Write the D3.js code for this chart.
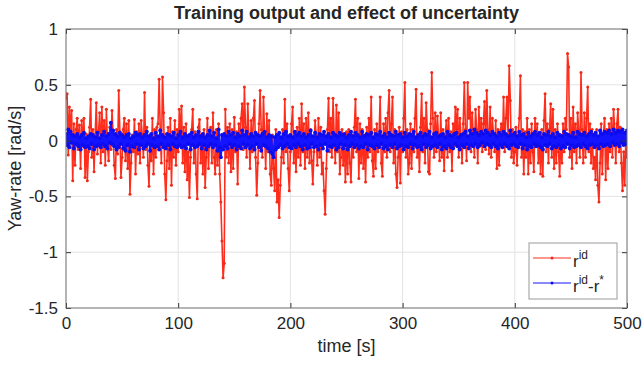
<!DOCTYPE html>
<html>
<head>
<meta charset="utf-8">
<script src="https://cdn.jsdelivr.net/npm/d3@7"></script>
<style>
  body { margin: 0; background: #fff; }
  text { font-family: "Liberation Sans", Arial, Helvetica, sans-serif; fill: #262626; }
</style>
</head>
<body>
<svg id="chart" width="643" height="365"></svg>
<script>
const title = "Training output and effect of uncertainty";
const xLabel = "time [s]";
const yLabel = "Yaw-rate [rad/s]";
const xTicks = [0, 100, 200, 300, 400, 500];
const yTicks = [-1.5, -1, -0.5, 0, 0.5, 1];
const yTickLabels = ["-1.5", "-1", "-0.5", "0", "0.5", "1"];

// one sample per second, starting at t = 0
const sampleStep = 1;

// r^id, in 0.01 rad/s
const ridCenti = [
  38, 42, -13, 30, 8, 27, -36, 15, -22, 10,
  20, -8, 14, -25, 18, -5, 20, -33, 6, -36,
  -10, 12, 37, -15, 10, -28, 5, 34, -12, 8,
  25, -20, 30, -10, 18, -22, 28, -5, -18, 12,
  -8, 27, 5, -22, -34, 10, -12, 45, 8, -33,
  -15, 10, 20, -18, 15, -25, 18, -48, -20, 5,
  -10, 19, -30, 8, -12, 15, -20, 18, 5, -15,
  43, -8, 12, -22, -41, 5, -18, 20, -30, 10,
  -15, 12, 15, 55, 10, -20, 57, 25, -30, -53,
  -18, 12, -25, 20, -40, 8, -15, 18, -22, 10,
  -10, 28, 5, 31, -20, 12, -28, 15, -35, -10,
  -51, -15, 10, 28, -20, 8, -30, -52, 12, 19,
  -20, 5, -30, 10, -42, -15, 20, -25, 8, 12,
  -20, 25, -15, -30, 10, -22, 15, -30, -55, -90,
  -123, -110, 28, -15, 12, -20, 15, -28, 10, -25,
  21, -10, 8, -39, 15, -5, 20, 33, -8, 48,
  12, -15, 33, 5, -25, 18, -10, 20, 36, -15,
  -49, -20, 15, 45, 10, -15, 39, 5, -25, 24,
  -10, 18, -30, -40, 5, -25, -45, 10, -55, -35,
  -69, -40, -15, 10, -20, 37, -10, 15, -25, -45,
  -10, 15, 30, -20, 8, -28, 12, -15, 20, -22,
  33, -10, 15, -25, 20, -15, 25, -20, 10, -18,
  -39, -10, 18, 5, -22, 20, -15, 12, -30, -20,
  -45, -66, -25, 10, 38, -10, 20, -15, 38, 5,
  -20, 32, -10, 25, -30, -15, 10, -22, 5, -37,
  8, -30, 10, -20, -37, 5, -15, 12, 37, -10,
  20, -34, 15, -20, 10, -25, 5, -37, 12, -15,
  20, -10, 39, -18, -32, 10, -25, 15, -10, 5,
  39, -20, -32, 15, -10, 20, -15, 25, 45, -10,
  15, 39, -20, 10, -30, -42, -15, 12, -38, 8,
  -10, 20, 52, -15, 10, -30, -20, 15, -25, 10,
  -10, 20, 46, -15, 5, -28, 12, 42, -10, 20,
  -20, 34, 10, -28, -30, 15, 61, 20, -15, 25,
  -10, 22, 5, -18, 25, -15, 10, -27, 5, 18,
  -15, 20, -10, 8, -27, 15, -5, 30, 10, 28,
  -15, 20, 5, -20, 15, 52, 10, -18, 52, 20,
  39, -10, 25, 5, -15, 28, 10, -20, 30, -5,
  20, -10, 15, 35, -8, 45, 10, -12, 30, -15,
  20, 5, -10, 18, -25, 10, -22, 8, 15, -5,
  39, -10, 20, 39, 5, 67, 36, -15, 10, -20,
  -10, 12, -22, 5, 20, 58, -15, 10, -30, 8,
  -15, 20, -30, 10, -20, 15, -10, -28, 20, -5,
  15, -20, 5, -30, 10, -32, 18, 42, -10, 15,
  -20, 10, 33, -15, 28, -25, 10, -20, 15, -10,
  -32, 5, -20, 15, -10, 20, 10, 78, 66, -15,
  20, -25, 30, -10, 15, -20, 25, 8, -15, 61,
  10, -20, 25, -15, 20, 48, -10, 15, -20, 10,
  -25, -15, -35, 10, -40, -55, -20, 15, -30, 5,
  20, -35, 10, -25, 15, -10, 20, -15, 28, 10,
  -20, 15, 28, -10, 12, -20, -45, -10, -40, 5,
  -15
];

// r^id - r^*, in 0.01 rad/s
const diffCenti = [
  6, -4, 10, -6, 8, -2, 5, -7, 4, -3, 6, -5, 3, -8, 5, -4, 7, -6, 2, -5,
  4, -7, 6, -3, 5, -8, 3, -5, 7, -4, 2, -6, 5, -3, 8, -5, 4, -7, 6, -2,
  16, -3, 9, -5, 6, -8, 4, -6, 7, -3, 5, -7, 3, -9, 5, -4, 6, -10, 2, -5,
  4, -6, 7, -3, 5, -8, 6, -4, 3, -7, 5, -5, 8, -3, 4, -9, 6, -4, 2, -6,
  7, -5, 4, -8, 9, -3, 5, -6, 3, -7, 6, -4, 5, -8, 4, -3, 7, -5, 2, -6,
  5, -4, 8, -6, 3, -5, 6, -7, 4, -3, 5, -8, 7, -4, 3, -6, 5, -5, 8, -3,
  4, -7, 6, -4, 3, -8, 5, -5, 9, -3, 4, -6, 7, -4, 2, -9, 10, -6, -15, 5,
  -8, 6, -5, 4, -7, 8, -3, 5, -6, 7, -4, 3, -8, 6, -5, 4, -7, 9, -3, 5,
  -6, 8, -4, 3, -7, 6, -5, 4, -8, 7, -3, 5, -6, 4, -9, 6, -4, 8, -5, 3,
  -7, 5, -10, 4, -12, -15, 3, -8, 5, -6, 7, -4, 3, -7, 6, -5, 8, -3, 4, -6,
  5, -7, 3, -4, 8, -6, 5, -3, 7, -5, 4, -8, 6, -4, 3, -7, 5, -6, 9, -3,
  4, -6, 7, -5, 3, -8, 6, -4, 5, -7, 8, -3, 4, -9, 6, -5, 3, -6, 7, -4,
  5, -8, 4, -6, 7, -3, 5, -7, 6, -4, 3, -8, 5, -5, 8, -3, 4, -6, 7, -4,
  5, -7, 3, -5, 8, -6, 4, -3, 6, -8, 5, -4, 7, -5, 3, -7, 6, -4, 5, -6,
  8, -3, 4, -7, 6, -5, 3, -8, 7, -4, 5, -6, 4, -3, 8, -7, 5, -5, 6, -4,
  3, -8, 7, -5, 4, -6, 6, -3, 5, -7, 8, -4, 3, -6, 5, -5, 7, -8, 4, -3,
  6, -6, 5, -4, 8, -7, 3, -5, 6, -4, 7, -6, 4, -3, 5, -8, 6, -5, 3, -7,
  8, -4, 5, -6, 4, -7, 6, -3, 7, -5, 3, -8, 5, -4, 6, -6, 8, -3, 4, -7,
  9, -4, 6, -5, 10, -3, 7, -6, 5, -4, 8, -2, 6, -5, 9, -3, 7, -4, 5, -6,
  8, -3, 6, -5, 4, -7, 7, -4, 5, -6, 8, -3, 6, -5, 4, -7, 9, -4, 5, -3,
  7, -5, 4, -6, 8, -3, 5, -7, 6, -4, 3, -8, 7, -5, 4, -6, 6, -3, 8, -5,
  5, -4, 7, -6, 3, -8, 6, -4, 5, -5, 8, -3, 4, -7, 6, -5, 3, -6, 7, -4,
  5, -7, 4, -5, 8, -6, 6, -3, 5, -7, 4, -4, 7, -6, 3, -5, 8, -4, 6, -6,
  5, -3, 7, -5, 4, -7, 6, -4, 8, -3, 5, -6, 7, -4, 4, -7, 9, -3, 6, -5,
  8, -4, 7, -3, 9, -5, 6, -2, 10, -4, 7, -3, 9, -5, 8, -2, 10, -4, 7, -3,
  9
];

const width = 643, height = 365;
const margin = { top: 29, right: 16, bottom: 57, left: 66 };
const innerW = width - margin.left - margin.right;
const innerH = height - margin.top - margin.bottom;

const svg = d3.select("#chart");
const g = svg.append("g").attr("transform", `translate(${margin.left},${margin.top})`);

const x = d3.scaleLinear().domain([0, 500]).range([0, innerW]);
const y = d3.scaleLinear().domain([-1.5, 1]).range([innerH, 0]);

// grid
g.append("g").selectAll("line").data(xTicks.slice(1, -1)).join("line")
  .attr("x1", d => x(d)).attr("x2", d => x(d))
  .attr("y1", 0).attr("y2", innerH)
  .attr("stroke", "#e3e3e3");
g.append("g").selectAll("line").data(yTicks.slice(1, -1)).join("line")
  .attr("x1", 0).attr("x2", innerW)
  .attr("y1", d => y(d)).attr("y2", d => y(d))
  .attr("stroke", "#e3e3e3");

// series
svg.append("defs").append("clipPath").attr("id", "plotClip")
  .append("rect").attr("width", innerW).attr("height", innerH);
const plot = g.append("g").attr("clip-path", "url(#plotClip)");

const line = d3.line()
  .x((d, i) => x(i * sampleStep))
  .y(d => y(d / 100));

function drawSeries(values, lineColor, dotColor, lw, r) {
  plot.append("path")
    .datum(values)
    .attr("fill", "none")
    .attr("stroke", lineColor)
    .attr("stroke-width", lw)
    .attr("stroke-linejoin", "round")
    .attr("d", line);
  plot.append("g").selectAll("circle").data(values).join("circle")
    .attr("cx", (d, i) => x(i * sampleStep))
    .attr("cy", d => y(d / 100))
    .attr("r", r)
    .attr("fill", dotColor);
}

drawSeries(ridCenti, "#ff2e1c", "#ee2a1a", 1.6, 1.5);
drawSeries(diffCenti, "#1414ff", "#0c0cf0", 2.2, 2);

// axes, ticks pointing inwards like matlab
const axisColor = "#6b6b6b";
g.append("g").attr("transform", `translate(0,${innerH})`)
  .call(d3.axisBottom(x).tickValues(xTicks).tickSizeInner(-5).tickSizeOuter(0).tickPadding(9));
g.append("g")
  .call(d3.axisLeft(y).tickValues(yTicks).tickSizeInner(-5).tickSizeOuter(0).tickPadding(8)
    .tickFormat((d, i) => yTickLabels[i]));
g.append("g")
  .call(d3.axisTop(x).tickValues(xTicks).tickSizeInner(-5).tickSizeOuter(0).tickFormat(""));
g.append("g").attr("transform", `translate(${innerW},0)`)
  .call(d3.axisRight(y).tickValues(yTicks).tickSizeInner(-5).tickSizeOuter(0).tickFormat(""));

g.selectAll(".domain").remove();
g.selectAll(".tick line").attr("stroke", "#333");
g.selectAll(".tick text").style("font-size", "17px").attr("fill", "#262626");

g.append("rect")
  .attr("width", innerW).attr("height", innerH)
  .attr("fill", "none").attr("stroke", axisColor);

// labels
svg.append("text")
  .attr("x", margin.left + innerW / 2).attr("y", 19)
  .attr("text-anchor", "middle")
  .style("font-size", "18px").style("font-weight", "bold")
  .attr("fill", "#111")
  .text(title);

svg.append("text")
  .attr("x", margin.left + innerW / 2).attr("y", 352)
  .attr("text-anchor", "middle")
  .style("font-size", "18px")
  .text(xLabel);

svg.append("text")
  .attr("transform", `translate(21,${margin.top + innerH / 2}) rotate(-90)`)
  .attr("text-anchor", "middle")
  .style("font-size", "18px")
  .text(yLabel);

// legend
const legend = svg.append("g").attr("transform", "translate(529,243)");
legend.append("rect")
  .attr("width", 88).attr("height", 56)
  .attr("fill", "#fff").attr("stroke", "#9a9a9a");

const entries = [
  { color: "#ff2e1c", dot: "#ee2a1a", cy: 15, parts: [["r", 0], ["id", 1]] },
  { color: "#1414ff", dot: "#0c0cf0", cy: 40, parts: [["r", 0], ["id", 1], ["-r", 0], ["*", 1]] }
];
entries.forEach(e => {
  legend.append("line")
    .attr("x1", 4).attr("x2", 42).attr("y1", e.cy).attr("y2", e.cy)
    .attr("stroke", e.color).attr("stroke-width", 1);
  legend.append("circle")
    .attr("cx", 23).attr("cy", e.cy).attr("r", 1.5).attr("fill", e.dot);
  const t = legend.append("text").attr("x", 44).attr("y", e.cy + 9);
  let sup = 0;
  e.parts.forEach(([s, isSup]) => {
    const dy = isSup && !sup ? -8 : (!isSup && sup ? 8 : 0);
    t.append("tspan")
      .attr("dy", dy)
      .style("font-size", isSup ? "12px" : "17px")
      .text(s);
    sup = isSup;
  });
});
</script>
</body>
</html>
